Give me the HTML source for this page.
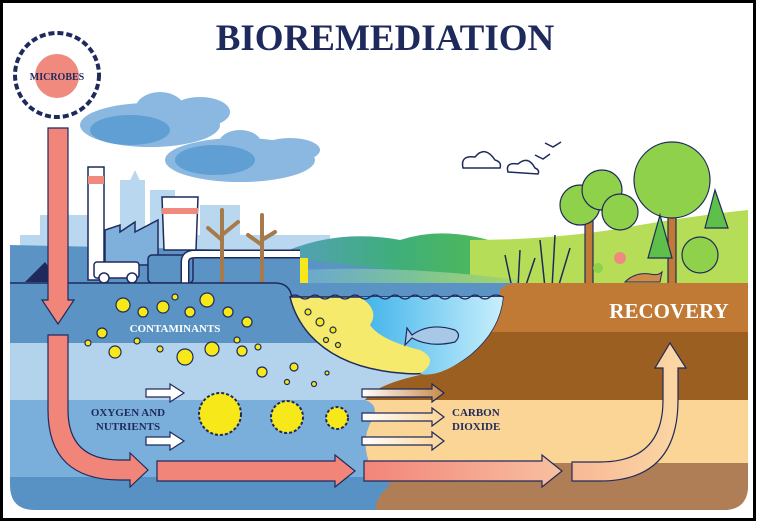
<!DOCTYPE html>
<html><head><meta charset="utf-8"><style>
html,body{margin:0;padding:0;background:#fff}
svg{display:block}
text{font-family:"Liberation Serif",serif;font-weight:bold}
</style></head><body>
<svg width="758" height="523" viewBox="0 0 758 523" xmlns="http://www.w3.org/2000/svg">
<defs>
<linearGradient id="hill" x1="0" x2="1"><stop offset="0" stop-color="#5b9bd0"/><stop offset=".5" stop-color="#3fae7a"/><stop offset="1" stop-color="#58c046"/></linearGradient>
<linearGradient id="water" x1="0" x2="1"><stop offset="0" stop-color="#6aa7d2"/><stop offset=".5" stop-color="#7bc29a"/><stop offset="1" stop-color="#a8d665"/></linearGradient>
<linearGradient id="pond" x1="0" x2="1"><stop offset="0" stop-color="#3fb3ea"/><stop offset="1" stop-color="#c8effc"/></linearGradient>
<linearGradient id="a3" x1="0" x2="1"><stop offset="0" stop-color="#f2857a"/><stop offset="1" stop-color="#f8c0a0"/></linearGradient>
<linearGradient id="a4" x1="0" x2="1"><stop offset="0" stop-color="#f8b896"/><stop offset="1" stop-color="#fbd9a4"/></linearGradient>
<linearGradient id="co" x1="0" x2="1"><stop offset="0" stop-color="#fff"/><stop offset="1" stop-color="#c98a48"/></linearGradient>
<linearGradient id="co2" x1="0" x2="1"><stop offset="0" stop-color="#fff"/><stop offset="1" stop-color="#fbd596"/></linearGradient>
<clipPath id="g"><path d="M10 283 H748 V485 Q748 510 723 510 H35 Q10 510 10 485 Z"/></clipPath>
</defs>
<rect x="1.5" y="1.5" width="753" height="518" fill="#fff" stroke="#000" stroke-width="3"/>
<text x="385" y="50" text-anchor="middle" font-size="37" fill="#1f2a5c">BIOREMEDIATION</text>
<!-- microbes -->
<circle cx="57" cy="75" r="42" fill="none" stroke="#1f2a5c" stroke-width="4" stroke-dasharray="6 3"/>
<circle cx="57" cy="76" r="22" fill="#f08a7e"/>
<text x="57" y="80" text-anchor="middle" font-size="10" fill="#1f2a5c">MICROBES</text>
<!-- smoke -->
<g fill="#8ab8e0">
<ellipse cx="150" cy="125" rx="70" ry="22"/><ellipse cx="160" cy="110" rx="25" ry="18"/><ellipse cx="200" cy="112" rx="30" ry="15"/>
<ellipse cx="240" cy="160" rx="75" ry="22"/><ellipse cx="240" cy="145" rx="22" ry="15"/><ellipse cx="290" cy="150" rx="30" ry="12"/>
</g>
<g fill="#5f9fd4"><ellipse cx="130" cy="130" rx="40" ry="15"/><ellipse cx="215" cy="160" rx="40" ry="15"/></g>
<!-- city bg -->
<g fill="#b9d8ef">
<rect x="40" y="215" width="60" height="40"/><rect x="120" y="180" width="25" height="70"/><polygon points="128,185 135,170 142,185"/><rect x="150" y="190" width="25" height="60"/><rect x="200" y="205" width="40" height="45"/><rect x="20" y="235" width="310" height="20"/>
</g>
<!-- hills -->
<path d="M250 270 Q320 225 400 240 Q460 220 540 260 L540 290 L250 290Z" fill="url(#hill)"/>
<path d="M470 290 L470 240 Q560 240 640 225 Q700 215 748 210 L748 290Z" fill="#b5dd58"/>
<path d="M10 245 L250 250 Q330 265 400 270 L400 290 L10 290Z" fill="#5b93c4"/>
<path d="M300 270 Q400 265 520 280 L520 300 L300 300Z" fill="url(#water)"/>
<!-- factory -->
<rect x="88" y="167" width="16" height="113" fill="#fff" stroke="#1f2a5c" stroke-width="1.5"/>
<rect x="88" y="176" width="16" height="8" fill="#f08a7e"/>
<path d="M105 265 V230 L120 225 V232 L135 222 V232 L158 220 V265Z" fill="#7fb0dc" stroke="#1f2a5c" stroke-width="1.5"/>
<path d="M162 197 H198 L196 250 H164Z" fill="#fff" stroke="#1f2a5c" stroke-width="1.5"/>
<rect x="162" y="208" width="36" height="6" fill="#f08a7e"/>
<rect x="148" y="255" width="45" height="28" rx="4" fill="#5b93c4" stroke="#1f2a5c" stroke-width="1.5"/>
<path d="M185 283 V262 Q185 254 195 254 H300" fill="none" stroke="#1f2a5c" stroke-width="9"/>
<path d="M185 283 V262 Q185 254 195 254 H300" fill="none" stroke="#fff" stroke-width="6"/>
<rect x="300" y="258" width="8" height="40" fill="#f6e61c"/>
<rect x="94" y="262" width="45" height="16" rx="3" fill="#fff" stroke="#1f2a5c" stroke-width="1.5"/>
<circle cx="104" cy="278" r="5" fill="#fff" stroke="#1f2a5c" stroke-width="1.5"/><circle cx="132" cy="278" r="5" fill="#fff" stroke="#1f2a5c" stroke-width="1.5"/>
<polygon points="25,282 45,262 60,282" fill="#1f2a5c"/>
<g stroke="#a67a4a" stroke-width="4" fill="none" stroke-linecap="round">
<path d="M222 282 V210 M222 240 L208 228 M222 235 L238 222 M262 282 V215 M262 245 L248 235 M262 240 L275 232"/>
</g>
<!-- clouds & birds -->
<g fill="#fff" stroke="#1f2a5c" stroke-width="1.5"><path d="M463 168 Q460 155 475 157 Q485 145 495 160 Q502 162 500 168Z"/><path d="M508 172 Q505 162 518 164 Q528 155 535 168 Q540 170 538 174Z"/></g>
<path d="M535 155 l8 4 l7 -5 M545 143 l8 4 l8 -5" stroke="#1f2a5c" fill="none" stroke-width="1.5"/>
<!-- trees -->
<g stroke="#1f2a5c" stroke-width="1.2">
<rect x="585" y="205" width="8" height="85" fill="#c17a35"/>
<circle cx="580" cy="205" r="20" fill="#8fd14a"/><circle cx="602" cy="190" r="20" fill="#8fd14a"/><circle cx="620" cy="212" r="18" fill="#8fd14a"/>
<rect x="668" y="165" width="8" height="120" fill="#c17a35"/>
<circle cx="672" cy="180" r="38" fill="#8fd14a"/>
<polygon points="648,258 660,215 672,258" fill="#5ec04a"/><polygon points="705,228 715,190 728,228" fill="#5ec04a"/>
<circle cx="700" cy="255" r="18" fill="#8fd14a"/>
</g>
<g stroke="#1f2a5c" stroke-width="1.5" fill="none"><path d="M512 288 L505 255 M518 288 L520 250 M525 288 L535 258 M545 288 L540 240 M552 288 L555 235 M558 288 L570 248"/></g>
<circle cx="620" cy="258" r="6" fill="#f08a7e"/><circle cx="598" cy="268" r="5" fill="#8fd14a"/>
<path d="M625 282 q10 -10 25 -8 q8 2 12 -2 l-2 10 h-35z" fill="#d08a4a" stroke="#1f2a5c" stroke-width="1"/>
<!-- ground -->
<g clip-path="url(#g)">
<rect x="0" y="283" width="758" height="60" fill="#5b93c4"/>
<rect x="0" y="343" width="758" height="57" fill="#b3d3ec"/>
<rect x="0" y="400" width="758" height="77" fill="#7aaedb"/>
<rect x="0" y="477" width="758" height="40" fill="#5892c4"/>
<path d="M500 290 Q505 283 520 283 L758 280 V520 H380 Q370 505 385 490 Q400 478 370 465 Q360 440 372 420 Q380 405 365 400 Q375 385 420 375 Q470 360 500 300Z" fill="#c17a35"/>
<clipPath id="b"><path d="M500 290 Q505 283 520 283 L758 280 V520 H380 Q370 505 385 490 Q400 478 370 465 Q360 440 372 420 Q380 405 365 400 Q375 385 420 375 Q470 360 500 300Z"/></clipPath>
<g clip-path="url(#b)">
<rect x="300" y="332" width="458" height="68" fill="#9b5f22"/>
<rect x="300" y="400" width="458" height="63" fill="#fbd596"/>
<rect x="300" y="463" width="458" height="60" fill="#b07e56"/>
</g>
</g>
<path d="M10 283 H275 Q290 283 292 298" fill="none" stroke="#1f2a5c" stroke-width="1.5"/>
<!-- pond -->
<path d="M290 297 H503 Q500 330 470 355 Q440 378 400 373 Q340 368 310 335 Q295 318 290 297Z" fill="#f6ea6c" stroke="#1f2a5c" stroke-width="1.5"/>
<path d="M360 297 H503 Q500 330 470 355 Q440 378 420 374 Q440 360 420 350 Q380 340 370 325 Q380 310 360 297Z" fill="url(#pond)"/>
<path d="M290 297 q5 -4 10 0 t10 0 t10 0 t10 0 t10 0 t10 0 t10 0 t10 0 t10 0 t10 0 t10 0 t10 0 t10 0 t10 0 t10 0 t10 0 t10 0 t10 0 t10 0 t10 0 t13 0" fill="none" stroke="#1f2a5c" stroke-width="1.2"/>
<path d="M412 335 Q430 322 455 330 Q462 335 455 342 Q430 348 412 338 L405 345 L407 328Z" fill="#a8c8e8" stroke="#1f2a5c" stroke-width="1.2"/>
<!-- contaminants -->
<g fill="#f7e81a" stroke="#1f2a5c" stroke-width="1.2">
<circle cx="123" cy="305" r="7"/><circle cx="143" cy="312" r="5"/><circle cx="163" cy="307" r="6"/><circle cx="175" cy="297" r="3"/><circle cx="190" cy="312" r="5"/><circle cx="207" cy="300" r="7"/><circle cx="228" cy="312" r="5"/><circle cx="247" cy="322" r="5"/>
<circle cx="102" cy="333" r="5"/><circle cx="88" cy="343" r="3"/><circle cx="115" cy="352" r="6"/><circle cx="137" cy="341" r="3"/><circle cx="160" cy="349" r="3"/><circle cx="185" cy="357" r="8"/><circle cx="212" cy="349" r="7"/><circle cx="237" cy="340" r="3"/><circle cx="242" cy="351" r="5"/><circle cx="258" cy="347" r="3"/>
<circle cx="262" cy="372" r="5"/><circle cx="294" cy="367" r="4"/><circle cx="287" cy="382" r="2.5"/><circle cx="314" cy="384" r="2.5"/><circle cx="327" cy="373" r="2"/>
<circle cx="308" cy="312" r="3"/><circle cx="320" cy="322" r="4"/><circle cx="333" cy="330" r="3"/><circle cx="326" cy="340" r="2.5"/><circle cx="338" cy="345" r="2.5"/>
</g>
<g fill="#f7e81a" stroke="#1f2a5c" stroke-width="2" stroke-dasharray="3 2">
<circle cx="220" cy="414" r="21"/><circle cx="287" cy="417" r="16"/><circle cx="337" cy="418" r="11"/>
</g>
<!-- white arrows -->
<g fill="#fff" stroke="#1f2a5c" stroke-width="1.2">
<path d="M146 389 h24 v-5 l14 9 l-14 9 v-5 h-24z"/>
<path d="M146 437 h24 v-5 l14 9 l-14 9 v-5 h-24z"/>
</g>
<path d="M362 389 h70 v-5 l12 9 l-12 9 v-5 h-70z" fill="url(#co)" stroke="#1f2a5c" stroke-width="1.2"/>
<path d="M362 413 h70 v-5 l12 9 l-12 9 v-5 h-70z" fill="url(#co2)" stroke="#1f2a5c" stroke-width="1.2"/>
<path d="M362 437 h70 v-5 l12 9 l-12 9 v-5 h-70z" fill="url(#co2)" stroke="#1f2a5c" stroke-width="1.2"/>
<!-- pink arrows -->
<g stroke="#1f2a5c" stroke-width="1.2">
<path d="M48 128 H68 V300 H74 L58 324 L42 300 H48Z" fill="#f2857a"/>
<path d="M48 335 H68 V410 Q68 460 120 460 H130 V453 L148 470 L130 487 V480 H120 Q48 480 48 410Z" fill="#f2857a"/>
<path d="M157 461 H335 V455 L355 471 L335 487 V481 H157Z" fill="#f2857a"/>
<path d="M364 461 H542 V455 L562 471 L542 487 V481 H364Z" fill="url(#a3)"/>
<path d="M572 462 H600 Q663 462 663 400 V368 H655 L670 343 L686 368 H678 V400 Q678 481 600 481 H572Z" fill="url(#a4)"/>
</g>
<text x="175" y="332" text-anchor="middle" font-size="11" fill="#fff">CONTAMINANTS</text>
<text x="128" y="416" text-anchor="middle" font-size="11" fill="#1f2a5c">OXYGEN AND</text>
<text x="128" y="430" text-anchor="middle" font-size="11" fill="#1f2a5c">NUTRIENTS</text>
<text x="452" y="416" font-size="11" fill="#1f2a5c">CARBON</text>
<text x="452" y="430" font-size="11" fill="#1f2a5c">DIOXIDE</text>
<text x="669" y="318" text-anchor="middle" font-size="21" fill="#fff">RECOVERY</text>
</svg>
</body></html>
